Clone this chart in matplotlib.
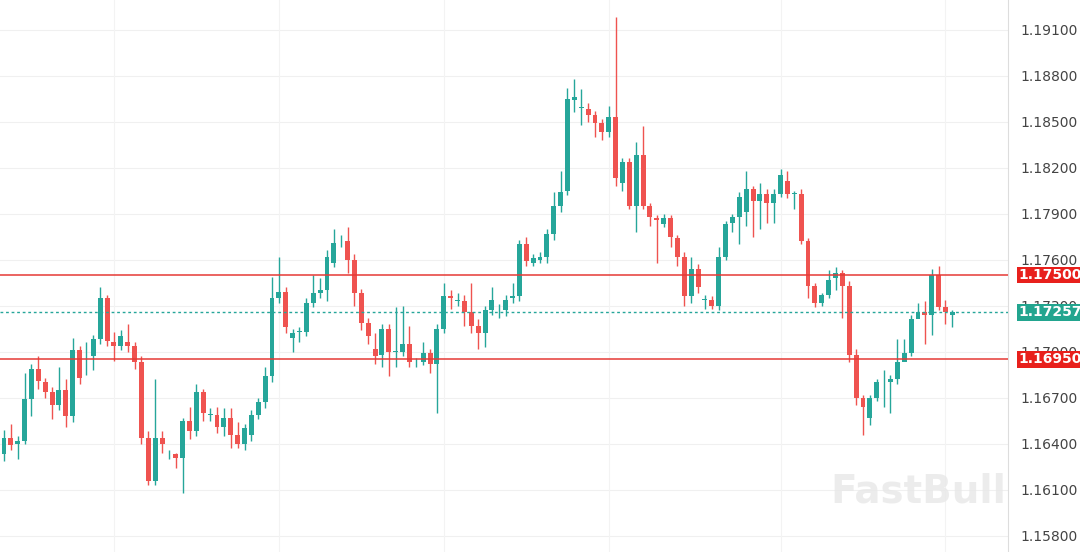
import matplotlib
matplotlib.use("Agg")
import matplotlib.pyplot as plt
import numpy as np

opens = [1.1633,1.1644,1.1640,1.1642,1.1669,1.1689,1.1680,1.1674,1.1665,1.1675,
         1.1658,1.1701,1.1697,1.1697,1.1708,1.1735,1.1706,1.1704,1.1706,1.1704,
         1.1693,1.1644,1.1616,1.1644,1.1633,1.1633,1.1631,1.1655,1.1648,1.1674,
         1.1659,1.1659,1.1651,1.1657,1.1646,1.1640,1.1646,1.1659,1.1667,1.1684,
         1.1735,1.1739,1.1709,1.1713,1.1713,1.1732,1.1738,1.1740,1.1758,1.1772,
         1.1772,1.1760,1.1738,1.1719,1.1702,1.1698,1.1715,1.1700,1.1700,1.1705,
         1.1693,1.1693,1.1699,1.1692,1.1715,1.1736,1.1733,1.1733,1.1726,1.1717,
         1.1712,1.1727,1.1727,1.1727,1.1735,1.1736,1.1770,1.1758,1.1760,1.1762,
         1.1777,1.1795,1.1805,1.1864,1.1859,1.1858,1.1854,1.1849,1.1843,1.1853,
         1.1810,1.1824,1.1795,1.1828,1.1795,1.1787,1.1783,1.1787,1.1774,1.1762,
         1.1736,1.1754,1.1734,1.1734,1.1730,1.1762,1.1784,1.1788,1.1791,1.1806,
         1.1798,1.1803,1.1797,1.1803,1.1811,1.1803,1.1803,1.1772,1.1743,1.1732,
         1.1737,1.1748,1.1751,1.1743,1.1698,1.1670,1.1657,1.1670,1.1680,1.1680,
         1.1682,1.1693,1.1699,1.1721,1.1726,1.1724,1.1750,1.1729,1.1724]
closes = [1.1644,1.1639,1.1642,1.1669,1.1689,1.1681,1.1674,1.1665,1.1675,1.1658,
          1.1701,1.1683,1.1697,1.1708,1.1735,1.1707,1.1704,1.1710,1.1704,1.1693,
          1.1644,1.1616,1.1644,1.1640,1.1633,1.1631,1.1655,1.1648,1.1674,1.1660,
          1.1659,1.1651,1.1657,1.1646,1.1640,1.1650,1.1659,1.1667,1.1684,1.1735,
          1.1739,1.1716,1.1712,1.1713,1.1732,1.1738,1.1740,1.1762,1.1771,1.1772,
          1.1760,1.1738,1.1719,1.1710,1.1697,1.1715,1.1700,1.1700,1.1705,1.1693,
          1.1693,1.1699,1.1692,1.1715,1.1736,1.1735,1.1734,1.1726,1.1717,1.1712,
          1.1727,1.1734,1.1727,1.1734,1.1736,1.1770,1.1759,1.1761,1.1762,1.1777,
          1.1795,1.1804,1.1865,1.1866,1.1859,1.1854,1.1849,1.1843,1.1853,1.1813,
          1.1824,1.1795,1.1828,1.1795,1.1788,1.1786,1.1787,1.1775,1.1762,1.1736,
          1.1754,1.1742,1.1734,1.1730,1.1762,1.1783,1.1788,1.1801,1.1806,1.1798,
          1.1803,1.1797,1.1803,1.1815,1.1803,1.1803,1.1772,1.1743,1.1732,1.1737,
          1.1747,1.1751,1.1743,1.1698,1.1670,1.1664,1.1670,1.1680,1.1680,1.1682,
          1.1693,1.1699,1.1721,1.1726,1.1724,1.1750,1.1729,1.1726,1.1726]
highs = [1.1649,1.1653,1.1645,1.1686,1.1692,1.1697,1.1683,1.1677,1.1690,1.1682,
         1.1709,1.1704,1.1706,1.1711,1.1742,1.1737,1.1713,1.1714,1.1718,1.1706,
         1.1697,1.1648,1.1682,1.1648,1.1636,1.1634,1.1657,1.1664,1.1679,1.1676,
         1.1663,1.1664,1.1663,1.1663,1.1654,1.1653,1.1662,1.1670,1.1690,1.1749,
         1.1762,1.1742,1.1715,1.1716,1.1735,1.1750,1.1748,1.1766,1.1780,1.1776,
         1.1781,1.1764,1.1741,1.1722,1.1712,1.1718,1.1718,1.1729,1.1730,1.1717,
         1.1696,1.1706,1.1702,1.1718,1.1745,1.1740,1.1738,1.1737,1.1745,1.1721,
         1.1730,1.1742,1.1731,1.1737,1.1745,1.1773,1.1775,1.1764,1.1765,1.1780,
         1.1804,1.1818,1.1872,1.1878,1.1871,1.1862,1.1857,1.1852,1.1860,1.1918,
         1.1826,1.1826,1.1837,1.1847,1.1797,1.1789,1.1790,1.1789,1.1776,1.1765,
         1.1762,1.1757,1.1737,1.1736,1.1768,1.1785,1.1790,1.1804,1.1818,1.1808,
         1.1810,1.1806,1.1806,1.1819,1.1818,1.1805,1.1806,1.1774,1.1745,1.1738,
         1.1753,1.1755,1.1753,1.1746,1.1702,1.1672,1.1672,1.1682,1.1688,1.1685,
         1.1708,1.1708,1.1724,1.1732,1.1733,1.1754,1.1756,1.1734,1.1727]
lows = [1.1629,1.1636,1.1630,1.1640,1.1658,1.1676,1.1670,1.1656,1.1662,1.1651,
        1.1654,1.1679,1.1685,1.1688,1.1705,1.1704,1.1694,1.1701,1.1700,1.1689,
        1.1640,1.1613,1.1613,1.1634,1.1630,1.1624,1.1608,1.1643,1.1645,1.1655,
        1.1655,1.1647,1.1645,1.1637,1.1637,1.1636,1.1642,1.1656,1.1663,1.1680,
        1.1732,1.1712,1.1700,1.1706,1.1710,1.1729,1.1735,1.1733,1.1755,1.1768,
        1.1751,1.1730,1.1714,1.1705,1.1692,1.1690,1.1684,1.1690,1.1697,1.1690,
        1.1690,1.1691,1.1686,1.1660,1.1712,1.1728,1.1730,1.1717,1.1712,1.1702,
        1.1703,1.1724,1.1722,1.1723,1.1732,1.1733,1.1756,1.1756,1.1758,1.1758,
        1.1773,1.1791,1.1802,1.1856,1.1848,1.1850,1.1840,1.1838,1.1840,1.1808,
        1.1805,1.1793,1.1778,1.1793,1.1782,1.1758,1.1781,1.1768,1.1756,1.1730,
        1.1732,1.1738,1.1728,1.1728,1.1727,1.1760,1.1778,1.1770,1.1782,1.1775,
        1.1780,1.1784,1.1784,1.1801,1.1800,1.1793,1.1770,1.1735,1.1729,1.1730,
        1.1735,1.1740,1.1722,1.1693,1.1665,1.1646,1.1652,1.1668,1.1664,1.1660,
        1.1679,1.1695,1.1697,1.1722,1.1705,1.1711,1.1727,1.1718,1.1716]

tick_vals = [1.15800,1.16100,1.16400,1.16700,1.17000,1.17300,1.17600,1.17900,1.18200,1.18500,1.18800,1.19100]
resist = 1.17500
support = 1.16950
last_price = 1.17257

UP = "#26a69a"
DOWN = "#ef5350"

fig = plt.figure(figsize=(10.8, 5.52), dpi=100)
ax = fig.add_axes([0, 0, 1008/1080, 1])
n = len(opens)
x = np.arange(n)
for i in x:
    o, c, h, l = opens[i], closes[i], highs[i], lows[i]
    col = UP if c >= o else DOWN
    ax.vlines(i, l, h, color=col, linewidth=1, zorder=3)
    bh = max(abs(c - o), 0.00004)
    ax.bar(i, bh, bottom=min(o, c), width=0.72, color=col, edgecolor=col, linewidth=0, zorder=4)

ax.set_xlim(-0.58, 146.1)
ax.set_ylim(1.15694, 1.19293)
for t in tick_vals:
    ax.axhline(t, color="#f0f0f0", linewidth=0.8, zorder=0)
for gx in [16, 40, 64, 88, 113, 137]:
    ax.axvline(gx, color="#f3f3f3", linewidth=0.8, zorder=0)

ax.axhline(resist, color="#e53935", linewidth=1.1, zorder=5)
ax.axhline(support, color="#e53935", linewidth=1.1, zorder=5)
ax.axhline(last_price, color=UP, linewidth=1, linestyle=(0, (2, 2)), zorder=5)

ax.set_xticks([])
ax.yaxis.tick_right()
ax.set_yticks(tick_vals)
ax.set_yticklabels([f"{t:.5f}" for t in tick_vals], fontsize=10, color="#444444")
ax.tick_params(axis="y", length=0, pad=9)
for s in ["top", "left", "bottom"]:
    ax.spines[s].set_visible(False)
ax.spines["right"].set_color("#dddddd")

def tag(val, col):
    ax.text(1.0 + 10/1008, val, f"{val:.5f}", transform=ax.get_yaxis_transform(),
            ha="left", va="center", fontsize=10, color="white", fontweight="bold",
            bbox=dict(boxstyle="square,pad=0.1", facecolor=col, edgecolor="none"), zorder=10,
            clip_on=False)

tag(resist, "#e8201c")
tag(support, "#e8201c")
tag(last_price, "#22a58f")

fig.text(0.85, 0.11, "FastBull", fontsize=28, fontweight="bold", color="#e8e8e8",
         ha="center", va="center", alpha=0.8)

fig.savefig("out.png", dpi=100)
